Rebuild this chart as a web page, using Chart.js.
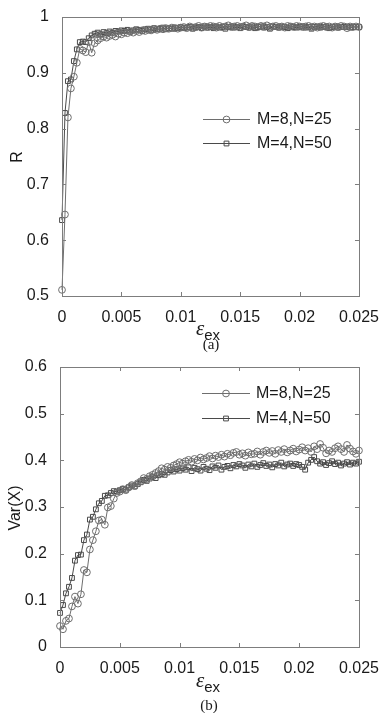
<!DOCTYPE html>
<html>
<head>
<meta charset="utf-8">
<script src="https://cdn.jsdelivr.net/npm/chart.js@4.4.0/dist/chart.umd.min.js"></script>
<style>
  body { margin: 0; background: #fff; width: 383px; height: 713px; overflow: hidden; position: relative; font-family: "Liberation Sans", Arial, sans-serif; color: #1a1a1a; }
  .box { position: absolute; left: 0; width: 383px; }
  .ylab { position: absolute; font-size: 16px; transform: translate(-50%, -50%) rotate(-90deg); white-space: nowrap; }
  .xlab { position: absolute; transform: translateX(-50%); white-space: nowrap; line-height: 1; }
  .xlab i { font-family: "Liberation Serif", "DejaVu Serif", serif; font-size: 21px; }
  .xlab sub { font-size: 15px; vertical-align: -5px; }
  .cap { position: absolute; font-family: "Liberation Serif", serif; font-size: 15px; transform: translateX(-50%); line-height: 1; }
</style>
</head>
<body>
<div class="box" style="top:0;height:350px"><canvas id="chartR" width="383" height="350"></canvas></div>
<div class="box" style="top:350px;height:363px"><canvas id="chartVar" width="383" height="363"></canvas></div>

<div class="ylab" style="left:17px;top:157px">R</div>
<div class="xlab" style="left:208px;top:318px"><i>ε</i><sub>ex</sub></div>
<div class="cap" style="left:211px;top:337px">(a)</div>

<div class="ylab" style="left:15px;top:508px">Var(X)</div>
<div class="xlab" style="left:208px;top:670px"><i>ε</i><sub>ex</sub></div>
<div class="cap" style="left:209px;top:698px">(b)</div>

<script>
  // coupling strength samples
  const epsEx = [
    0, 0.00025, 0.0005, 0.00075, 0.001, 0.00125, 0.0015, 0.00175, 0.002, 0.00225,
    0.0025, 0.00275, 0.003, 0.00325, 0.0035, 0.00375, 0.004, 0.00425, 0.0045, 0.00475,
    0.005, 0.00525, 0.0055, 0.00575, 0.006, 0.00625, 0.0065, 0.00675, 0.007, 0.00725,
    0.0075, 0.00775, 0.008, 0.00825, 0.0085, 0.00875, 0.009, 0.00925, 0.0095, 0.00975,
    0.01, 0.01025, 0.0105, 0.01075, 0.011, 0.01125, 0.0115, 0.01175, 0.012, 0.01225,
    0.0125, 0.01275, 0.013, 0.01325, 0.0135, 0.01375, 0.014, 0.01425, 0.0145, 0.01475,
    0.015, 0.01525, 0.0155, 0.01575, 0.016, 0.01625, 0.0165, 0.01675, 0.017, 0.01725,
    0.0175, 0.01775, 0.018, 0.01825, 0.0185, 0.01875, 0.019, 0.01925, 0.0195, 0.01975,
    0.02, 0.02025, 0.0205, 0.02075, 0.021, 0.02125, 0.0215, 0.02175, 0.022, 0.02225,
    0.0225, 0.02275, 0.023, 0.02325, 0.0235, 0.02375, 0.024, 0.02425, 0.0245, 0.02475,
    0.025
  ];

  const labelM8 = "M=8,N=25";
  const labelM4 = "M=4,N=50";

  // (a) R
  const rM8 = [
    0.511, 0.646, 0.820, 0.872, 0.893, 0.918, 0.943, 0.940, 0.937, 0.955,
    0.936, 0.953, 0.958, 0.962, 0.965, 0.963, 0.966, 0.968, 0.965, 0.970,
    0.969, 0.972, 0.971, 0.974, 0.972, 0.975, 0.973, 0.976, 0.975, 0.977,
    0.976, 0.978, 0.977, 0.979, 0.978, 0.980, 0.979, 0.981, 0.980, 0.979,
    0.981, 0.982, 0.980, 0.983, 0.981, 0.982, 0.984, 0.981, 0.983, 0.982,
    0.984, 0.983, 0.981, 0.984, 0.982, 0.983, 0.985, 0.982, 0.983, 0.984,
    0.982, 0.983, 0.985, 0.982, 0.984, 0.983, 0.982, 0.984, 0.983, 0.985,
    0.982, 0.983, 0.984, 0.982, 0.983, 0.981, 0.984, 0.983, 0.982, 0.984,
    0.983, 0.982, 0.983, 0.984, 0.982, 0.983, 0.981, 0.983, 0.984, 0.982,
    0.983, 0.981, 0.983, 0.982, 0.984, 0.983, 0.980, 0.983, 0.982, 0.983,
    0.982
  ];
  const rM4 = [
    0.636, 0.828, 0.885, 0.888, 0.921, 0.942, 0.955, 0.956, 0.955, 0.962,
    0.967, 0.970, 0.972, 0.969, 0.973, 0.971, 0.974, 0.972, 0.975, 0.974,
    0.976, 0.975, 0.977, 0.974, 0.976, 0.978, 0.977, 0.975, 0.978, 0.979,
    0.977, 0.980, 0.978, 0.979, 0.981, 0.978, 0.980, 0.979, 0.981, 0.980,
    0.982, 0.980, 0.981, 0.982, 0.979, 0.981, 0.982, 0.980, 0.983, 0.981,
    0.982, 0.980, 0.983, 0.981, 0.982, 0.979, 0.982, 0.983, 0.981, 0.982,
    0.980, 0.983, 0.982, 0.981, 0.983, 0.980, 0.982, 0.983, 0.981, 0.982,
    0.979, 0.983, 0.982, 0.981, 0.983, 0.982, 0.980, 0.983, 0.982, 0.981,
    0.982, 0.983, 0.981, 0.982, 0.979, 0.982, 0.983, 0.981, 0.982, 0.983,
    0.980, 0.982, 0.983, 0.981, 0.982, 0.982, 0.983, 0.981, 0.982, 0.982,
    0.982
  ];

  // (b) Var(X)
  const varM8 = [
    0.045, 0.038, 0.056, 0.061, 0.087, 0.108, 0.093, 0.113, 0.165, 0.160,
    0.209, 0.229, 0.248, 0.271, 0.273, 0.262, 0.299, 0.302, 0.318, 0.330,
    0.333, 0.338, 0.336, 0.342, 0.347, 0.345, 0.351, 0.355, 0.362, 0.360,
    0.366, 0.369, 0.373, 0.377, 0.383, 0.380, 0.386, 0.384, 0.389, 0.392,
    0.396, 0.393, 0.398, 0.401, 0.397, 0.403, 0.400, 0.406, 0.402, 0.405,
    0.409, 0.404, 0.410, 0.407, 0.412, 0.408, 0.414, 0.411, 0.416, 0.418,
    0.412, 0.415, 0.410, 0.417, 0.413, 0.414, 0.419, 0.412, 0.418, 0.421,
    0.416, 0.420, 0.414, 0.422, 0.418, 0.424, 0.417, 0.421, 0.425, 0.419,
    0.423, 0.428, 0.421, 0.426, 0.418, 0.430, 0.424, 0.435, 0.427, 0.415,
    0.421, 0.418, 0.426, 0.430, 0.424, 0.418, 0.433, 0.425, 0.419, 0.414,
    0.421
  ];
  const varM4 = [
    0.073, 0.090, 0.115, 0.129, 0.148, 0.185, 0.197, 0.198, 0.229, 0.241,
    0.273, 0.279, 0.295, 0.308, 0.313, 0.324, 0.325, 0.330, 0.334, 0.333,
    0.336, 0.339, 0.337, 0.342, 0.346, 0.344, 0.349, 0.353, 0.358, 0.356,
    0.361, 0.365, 0.362, 0.368, 0.371, 0.369, 0.374, 0.379, 0.376, 0.381,
    0.378, 0.383, 0.380, 0.385, 0.377, 0.384, 0.381, 0.378, 0.386, 0.382,
    0.379, 0.387, 0.384, 0.389, 0.380, 0.386, 0.388, 0.383, 0.390, 0.387,
    0.392, 0.389, 0.384, 0.391, 0.387, 0.393, 0.386, 0.390, 0.394, 0.388,
    0.391, 0.385, 0.392, 0.389, 0.395, 0.387, 0.391, 0.393, 0.388, 0.392,
    0.390, 0.386, 0.380, 0.395, 0.401, 0.407, 0.398, 0.393, 0.396, 0.390,
    0.394, 0.398, 0.392, 0.395, 0.389, 0.393, 0.396, 0.391, 0.395, 0.393,
    0.397
  ];

  const xTicks = [0, 0.005, 0.01, 0.015, 0.02, 0.025];
  const xTickLabels = ["0", "0.005", "0.01", "0.015", "0.02", "0.025"];
  const rTicks = [0.5, 0.6, 0.7, 0.8, 0.9, 1];
  const rTickLabels = ["0.5", "0.6", "0.7", "0.8", "0.9", "1"];
  const varTicks = [0, 0.1, 0.2, 0.3, 0.4, 0.5, 0.6];
  const varTickLabels = ["0", "0.1", "0.2", "0.3", "0.4", "0.5", "0.6"];

  const FONT = '"Liberation Sans", Arial, sans-serif';
  const colCirc = "#6e6e6e";
  const colSq = "#4a4a4a";

  // box frame with inward ticks (matlab style)
  const frame = {
    id: "frame",
    afterDatasetsDraw(chart) {
      const { ctx, chartArea: a, scales } = chart;
      ctx.save();
      ctx.strokeStyle = "#7d7d7d";
      ctx.lineWidth = 1;
      ctx.strokeRect(Math.round(a.left) + 0.5, Math.round(a.top) + 0.5, Math.round(a.width), Math.round(a.height));
      ctx.beginPath();
      scales.x.ticks.forEach(t => {
        const px = Math.round(scales.x.getPixelForValue(t.value)) + 0.5;
        ctx.moveTo(px, a.bottom); ctx.lineTo(px, a.bottom - 4);
        ctx.moveTo(px, a.top); ctx.lineTo(px, a.top + 4);
      });
      scales.y.ticks.forEach(t => {
        const py = Math.round(scales.y.getPixelForValue(t.value)) + 0.5;
        ctx.moveTo(a.left, py); ctx.lineTo(a.left + 4, py);
        ctx.moveTo(a.right, py); ctx.lineTo(a.right - 4, py);
      });
      ctx.stroke();
      ctx.restore();
    }
  };

  // legend drawn inside the axes: line + marker + text
  const innerLegend = {
    id: "innerLegend",
    afterDraw(chart, args, opts) {
      const ctx = chart.ctx;
      chart.data.datasets.forEach((ds, i) => {
        const y = opts.y0 + i * opts.dy;
        ctx.save();
        ctx.strokeStyle = ds.borderColor;
        ctx.lineWidth = 1;
        ctx.beginPath();
        ctx.moveTo(opts.x0, y + 0.5);
        ctx.lineTo(opts.x1, y + 0.5);
        ctx.stroke();
        ctx.fillStyle = "rgba(0,0,0,0)";
        Chart.helpers.drawPoint(ctx, { pointStyle: ds.pointStyle, radius: ds.pointRadius, borderWidth: 1, rotation: 0 }, (opts.x0 + opts.x1) / 2, y + 0.5);
        ctx.fillStyle = "#1a1a1a";
        ctx.font = "16px " + FONT;
        ctx.textBaseline = "middle";
        ctx.fillText(ds.label, opts.tx, y + 1);
        ctx.restore();
      });
    }
  };

  function series(label, ys, color, style) {
    return {
      label,
      data: epsEx.map((x, i) => ({ x, y: ys[i] })),
      showLine: true,
      borderColor: color,
      borderWidth: 1,
      pointStyle: style,
      pointRadius: 3.4,
      pointBorderWidth: 1,
      pointBorderColor: color,
      pointBackgroundColor: "rgba(0,0,0,0)",
      clip: false
    };
  }

  function makeChart(id, datasets, yMin, yMax, yTicks, yLabels, yWidth, xHeight, legendPos) {
    return new Chart(document.getElementById(id), {
      type: "scatter",
      data: { datasets },
      options: {
        responsive: false,
        animation: false,
        devicePixelRatio: 1,
        layout: { padding: { top: 17, right: 20, left: 0, bottom: 0 } },
        plugins: {
          legend: { display: false },
          tooltip: { enabled: false },
          innerLegend: legendPos
        },
        scales: {
          x: {
            type: "linear",
            min: 0, max: 0.025,
            grid: { display: false },
            border: { display: false },
            afterBuildTicks: s => { s.ticks = xTicks.map(v => ({ value: v })); },
            afterFit: s => { s.height = xHeight; },
            ticks: {
              padding: 4,
              maxRotation: 0,
              autoSkip: false,
              color: "#1a1a1a",
              font: { family: FONT, size: 16 },
              callback: (v, i) => xTickLabels[i]
            }
          },
          y: {
            min: yMin, max: yMax,
            grid: { display: false },
            border: { display: false },
            afterBuildTicks: s => { s.ticks = yTicks.map(v => ({ value: v })); },
            afterFit: s => { s.width = yWidth; },
            ticks: {
              padding: 5,
              autoSkip: false,
              color: "#1a1a1a",
              font: { family: FONT, size: 16 },
              callback: (v, i) => yLabels[i]
            }
          }
        }
      },
      plugins: [frame, innerLegend]
    });
  }

  makeChart("chartR",
    [series(labelM8, rM8, colCirc, "circle"), series(labelM4, rM4, colSq, "rect")],
    0.5, 1, rTicks, rTickLabels, 62, 54,
    { x0: 203, x1: 250, tx: 257, y0: 119, dy: 24 });

  makeChart("chartVar",
    [series(labelM8, varM8, colCirc, "circle"), series(labelM4, varM4, colSq, "rect")],
    0, 0.6, varTicks, varTickLabels, 60, 66,
    { x0: 202, x1: 250, tx: 256, y0: 43, dy: 25 });
</script>
</body>
</html>
